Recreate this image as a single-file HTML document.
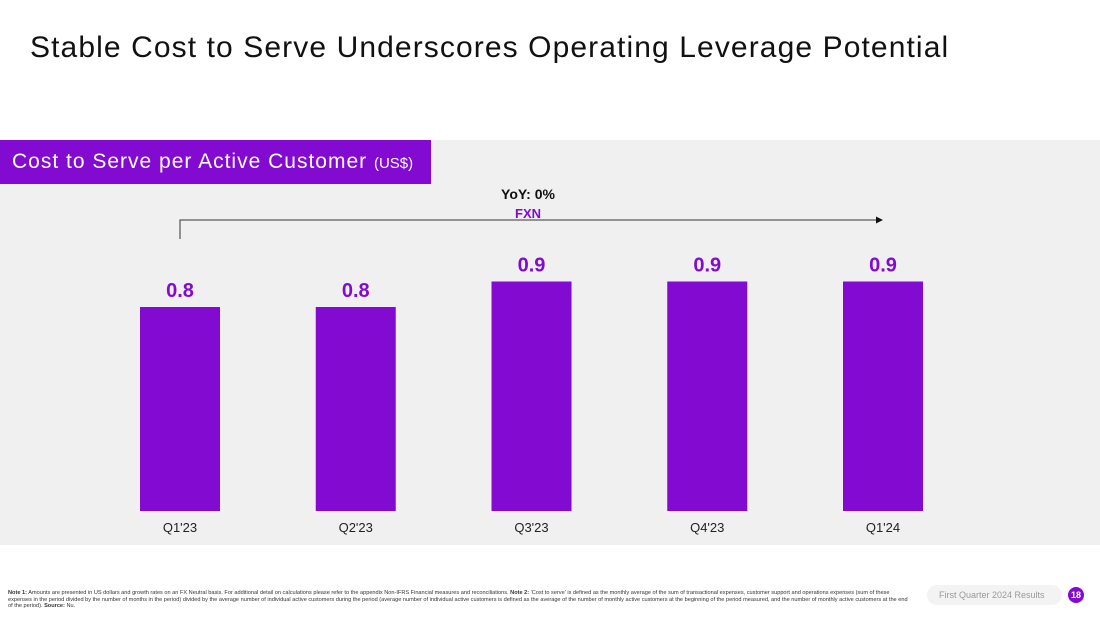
<!DOCTYPE html>
<html><head><meta charset="utf-8"><style>
body{margin:0;width:1100px;height:619px;background:#fff;font-family:"Liberation Sans",sans-serif;position:relative;overflow:hidden}
.abs{position:absolute}
</style></head><body>
<div class="abs" style="left:30px;top:31px;font-size:30px;letter-spacing:1.1px;color:#111;">Stable Cost to Serve Underscores Operating Leverage Potential</div>
<div class="abs" style="left:0;top:140px;width:1100px;height:405px;background:#f0f0f0"></div>
<div class="abs" style="left:0;top:140px;width:431px;height:44px;background:#820ad1;color:#fff;font-size:21px;letter-spacing:1px;line-height:44px;padding-left:12px;box-sizing:border-box;white-space:nowrap">Cost to Serve per Active Customer <span style="font-size:15px;letter-spacing:0">(US$)</span></div>
<div class="abs" style="left:478px;top:186px;width:100px;text-align:center;font-size:14px;font-weight:bold;color:#111">YoY: 0%</div>
<div class="abs" style="left:478px;top:206px;width:100px;text-align:center;font-size:13px;font-weight:bold;color:#820ad1">FXN</div>
<svg class="abs" style="left:0;top:0" width="1100" height="619">
<g id="g"></g>
</svg>
<div class="abs" style="left:8px;top:590px;width:905px;font-size:5.6px;line-height:6.6px;color:#333"><b>Note 1:</b> Amounts are presented in US dollars and growth rates on an FX Neutral basis. For additional detail on calculations please refer to the appendix Non-IFRS Financial measures and reconciliations. <b>Note 2:</b> 'Cost to serve' is defined as the monthly average of the sum of transactional expenses, customer support and operations expenses (sum of these expenses in the period divided by the number of months in the period) divided by the average number of individual active customers during the period (average number of individual active customers is defined as the average of the number of monthly active customers at the beginning of the period measured, and the number of monthly active customers at the end of the period). <b>Source:</b> Nu.</div>
<div class="abs" style="left:927px;top:585px;width:135px;height:20px;border-radius:10px;background:#f3f3f3;font-size:9px;color:#999;line-height:20px;padding-left:12px;box-sizing:border-box">First Quarter 2024 Results</div>
<div class="abs" style="left:1068px;top:587px;width:16px;height:16px;border-radius:8px;background:#820ad1;color:#fff;font-size:9px;font-weight:bold;text-align:center;line-height:16px">18</div>
<script>
const categories=["Q1'23","Q2'23","Q3'23","Q4'23","Q1'24"];
const values=[0.8,0.8,0.9,0.9,0.9];
const valueLabels=["0.8","0.8","0.9","0.9","0.9"];
const NS="http://www.w3.org/2000/svg";
const g=document.getElementById('g');
const base=511, scale=255, x0=180, step=175.75, bw=80;
function xPos(i){return x0+i*step;}
function yPos(v){return base-v*scale;}
function mk(t,a){const e=document.createElementNS(NS,t);for(const k in a)e.setAttribute(k,a[k]);g.appendChild(e);return e;}
categories.forEach((c,i)=>{
 const r=mk('rect',{x:xPos(i)-bw/2,y:yPos(values[i]),width:bw,height:base-yPos(values[i]),fill:'#820ad1'});
 
 
 const t=mk('text',{x:xPos(i),y:yPos(values[i])-10,'text-anchor':'middle','font-size':20,'font-weight':'bold',fill:'#820ad1','font-family':'Liberation Sans'});
 t.textContent=valueLabels[i];
 
 
 const l=mk('text',{x:xPos(i),y:532,'text-anchor':'middle','font-size':13,fill:'#222','font-family':'Liberation Sans'});
 l.textContent=c;
 
 
});
const a=mk('path',{d:`M${xPos(0)} 239 V220 H${xPos(4)-6}`,stroke:'#333','stroke-width':1,fill:'none'});


const h=mk('path',{d:`M${xPos(4)} 220 l-7 -3.5 v7 z`,fill:'#111'});


</script>
</body></html>
